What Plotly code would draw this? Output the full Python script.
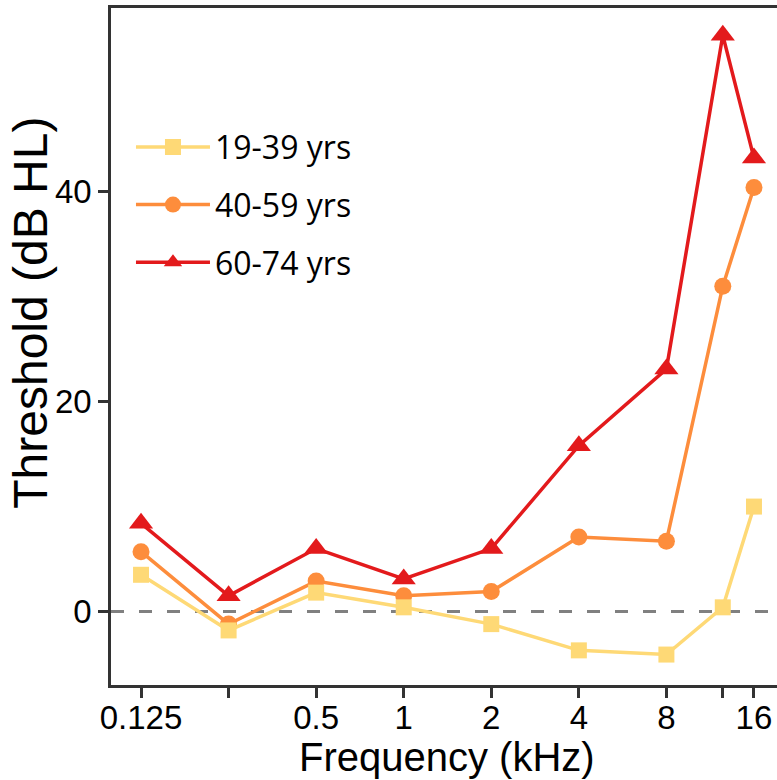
import plotly.graph_objects as go
import math

freqs = [0.125, 0.25, 0.5, 1, 2, 4, 8, 12.5, 16]
tick_vals = [0.125, 0.25, 0.5, 1, 2, 4, 8, 12.5, 16]
tick_text = ["0.125", "", "0.5", "1", "2", "4", "8", "", "16"]

group_names = ["19-39 yrs", "40-59 yrs", "60-74 yrs"]
young = [3.5, -1.8, 1.8, 0.4, -1.2, -3.7, -4.1, 0.4, 10.0]
middle = [5.7, -1.2, 2.9, 1.5, 1.9, 7.1, 6.7, 31.0, 40.4]
older = [8.4, 1.5, 6.0, 3.1, 6.0, 15.8, 23.1, 54.9, 43.2]

colors = ["#FED976", "#FD8D3C", "#E31A1C"]
symbols = ["square", "circle", "triangle-up"]
sizes = [16, 17, 21]
series = [young, middle, older]

fig = go.Figure()
# draw oldest first so lighter series sit on top
for i in [2, 1, 0]:
    fig.add_trace(go.Scatter(
        x=freqs, y=series[i], name=group_names[i],
        mode="lines+markers",
        line=dict(color=colors[i], width=3.5),
        marker=dict(symbol=symbols[i], size=sizes[i], color=colors[i]),
        legendgroup=group_names[i], legendrank=i + 1,
    ))

fig.add_shape(type="line", xref="paper", x0=0, x1=1, yref="y", y0=0, y1=0,
              line=dict(color="#808080", width=3, dash="13px,15px"), layer="below")

oct_ = math.log10(2)
xr = [math.log10(0.125) - 0.343 * oct_, math.log10(16) + 0.263 * oct_]

axis_font = dict(family="Liberation Sans, Arial, sans-serif", size=33, color="black")
xtitle_font = dict(family="Liberation Sans, Arial, sans-serif", size=40, color="black")
ytitle_font = dict(family="Liberation Sans, Arial, sans-serif", size=48, color="black")

fig.add_annotation(text="Threshold (dB HL)", textangle=-90, xref="paper", yref="paper",
                   x=-0.12, y=0.55, xanchor="center", yanchor="middle",
                   showarrow=False, font=ytitle_font)
fig.add_annotation(text="Frequency (kHz)", xref="paper", yref="paper",
                   x=0.505, y=-0.106, xanchor="center", yanchor="middle",
                   showarrow=False, font=xtitle_font)

fig.update_layout(
    width=777, height=780,
    margin=dict(l=111, r=0, t=8, b=95, autoexpand=False),
    plot_bgcolor="white", paper_bgcolor="white",
    showlegend=True,
    legend=dict(x=0.03, y=0.835, xanchor="left", yanchor="top",
                font=dict(family="Open Sans, Lato, sans-serif", size=32, color="black"),
                tracegroupgap=13, itemwidth=74, bgcolor="rgba(0,0,0,0)"),
    xaxis=dict(type="log", range=xr, tickvals=tick_vals, ticktext=tick_text,
               ticks="outside", ticklen=10, tickwidth=2.5, tickcolor="#333333",
               showline=True, linecolor="#333333", linewidth=2.5, mirror=True,
               showgrid=False, zeroline=False, tickfont=axis_font, automargin=False,
               ticklabelstandoff=-8),
    yaxis=dict(range=[-7, 57.5], tickvals=[0, 20, 40],
               ticks="outside", ticklen=10, tickwidth=2.5, tickcolor="#333333",
               showline=True, linecolor="#333333", linewidth=2.5, mirror=False,
               showgrid=False, zeroline=False, tickfont=axis_font, automargin=False),
)

fig.write_html("out.html", config={"displayModeBar": False},
               post_script="document.body.style.margin='0';document.body.style.overflow='hidden';")
